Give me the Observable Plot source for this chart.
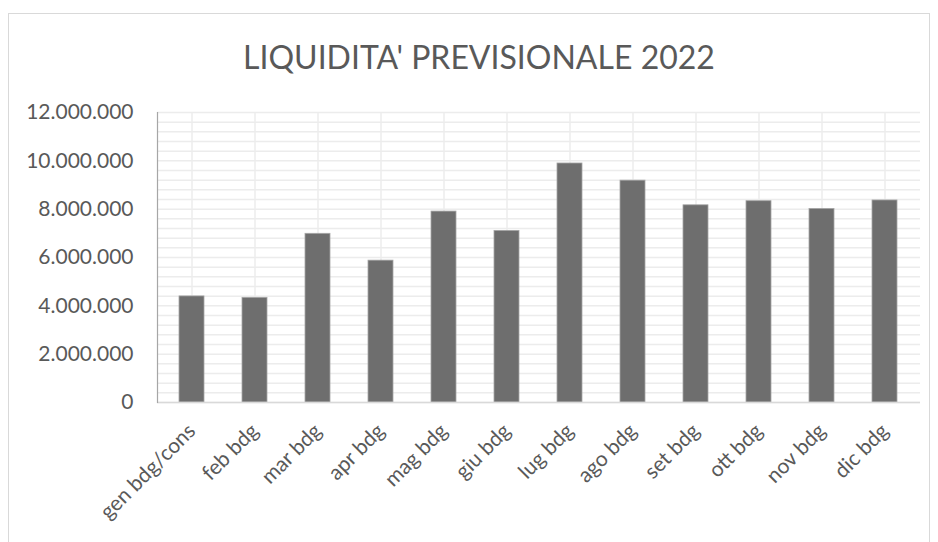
<!DOCTYPE html>
<html>
<head>
<meta charset="utf-8">
<script src="https://cdn.jsdelivr.net/npm/d3@7"></script>
<script src="https://cdn.jsdelivr.net/npm/@observablehq/plot@0.6"></script>
<style>
  html, body { margin: 0; padding: 0; background: #fff; }
  #wrap { position: relative; width: 938px; height: 542px; overflow: hidden; font-family: Lato, "Open Sans", sans-serif; }
  #frame { position: absolute; left: 8px; top: 13px; width: 922px; height: 540px; border: 1px solid #d9d9d9; box-sizing: border-box; }
  #title { position: absolute; left: 0; top: 0; width: 938px; height: 80px; text-align: center; color: #595959; font-size: 32px; line-height: 114px; padding-left: 20px; box-sizing: border-box; }
  #chart { position: absolute; left: 0; top: 80px; }
  #chart svg { overflow: visible; }
</style>
</head>
<body>
<div id="wrap">
  <div id="frame"></div>
  <div id="title">LIQUIDITA' PREVISIONALE 2022</div>
  <div id="chart"></div>
</div>
<script>
const categories = ["gen bdg/cons", "feb bdg", "mar bdg", "apr bdg", "mag bdg", "giu bdg", "lug bdg", "ago bdg", "set bdg", "ott bdg", "nov bdg", "dic bdg"];
const values = [4390000, 4330000, 6980000, 5870000, 7900000, 7100000, 9890000, 9180000, 8160000, 8330000, 8010000, 8360000];
const yTicks = [0, 2000000, 4000000, 6000000, 8000000, 10000000, 12000000];
const yGrid = d3.range(0, 12000001, 400000);

const data = categories.map((c, i) => ({cat: c, value: values[i]}));
const it = d3.formatLocale({decimal: ",", thousands: ".", grouping: [3], currency: ["", " €"]});
const fmt = it.format(",");

const chart = Plot.plot({
  width: 938,
  height: 462,
  marginLeft: 157,
  marginRight: 18,
  marginTop: 32,
  marginBottom: 140,
  style: {fontFamily: "Lato, 'Open Sans', sans-serif", color: "#595959", background: "transparent"},
  x: {domain: categories, paddingInner: 0.6, paddingOuter: 0.3, label: null},
  y: {domain: [0, 12000000], label: null},
  marks: [
    Plot.ruleY(yGrid, {stroke: "#ececec", strokeWidth: 1.5}),
    Plot.ruleX(categories, {x: d => d, stroke: "#ececec", strokeWidth: 1.5}),
    Plot.barY(data, {x: "cat", y: "value", fill: "#6e6e6e", stroke: "#a6a6a6", strokeWidth: 0.8}),
    Plot.ruleY([0], {stroke: "#d9d9d9", strokeWidth: 1.5}),
    Plot.axisY({ticks: yTicks, tickFormat: fmt, tickSize: 0, tickPadding: 24, fontSize: 21, fill: "#595959", label: null}),
    Plot.axisX({tickRotate: -45, tickSize: 0, tickPadding: 25, fontSize: 21, fill: "#595959", label: null}),
    Plot.frame({anchor: "left", stroke: "#a6a6a6", strokeWidth: 1.2})
  ]
});
document.getElementById("chart").appendChild(chart);
</script>
</body>
</html>
